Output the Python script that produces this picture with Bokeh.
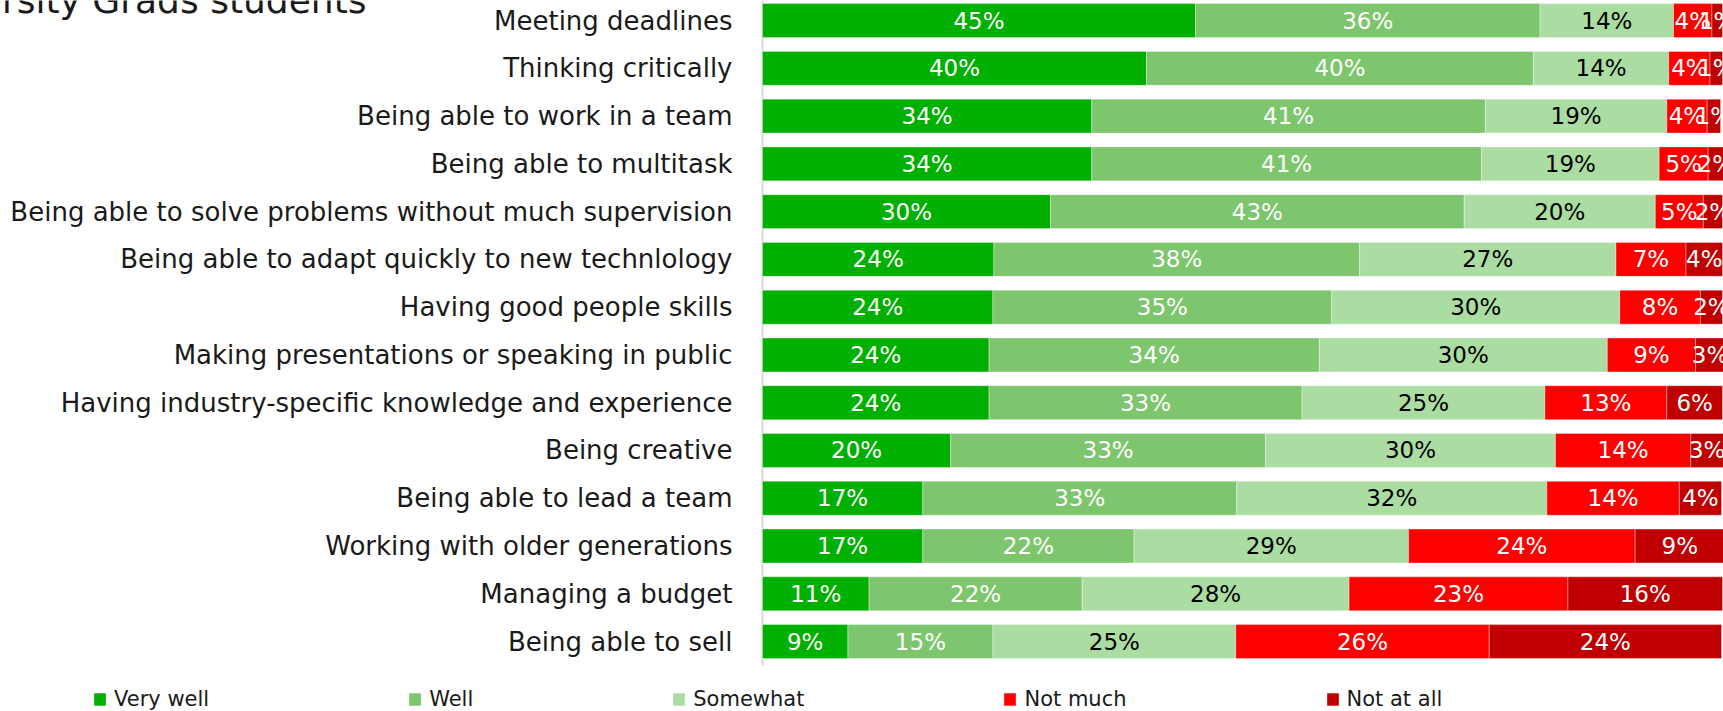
import numpy as np
from bokeh.plotting import figure
from bokeh.models import ColumnDataSource, Legend, LegendItem, Range1d, Label
from bokeh.core.properties import value
from bokeh.embed import file_html
from bokeh.resources import INLINE

skills = [
    "Meeting deadlines",
    "Thinking critically",
    "Being able to work in a team",
    "Being able to multitask",
    "Being able to solve problems without much supervision",
    "Being able to adapt quickly to new technlology",
    "Having good people skills",
    "Making presentations or speaking in public",
    "Having industry-specific knowledge and experience",
    "Being creative",
    "Being able to lead a team",
    "Working with older generations",
    "Managing a budget",
    "Being able to sell",
]
levels = ["Very well", "Well", "Somewhat", "Not much", "Not at all"]
very_well = [45.1, 40.0, 34.3, 34.3, 30.0, 24.1, 24.0, 23.6, 23.6, 19.6, 16.7, 16.7, 11.1, 8.9]
well = [35.9, 40.3, 41.0, 40.6, 43.1, 38.1, 35.3, 34.4, 32.6, 32.8, 32.7, 22.0, 22.2, 15.1]
somewhat = [13.9, 14.1, 18.9, 18.5, 19.9, 26.7, 30.0, 30.0, 25.3, 30.2, 32.3, 28.6, 27.8, 25.3]
not_much = [4.0, 4.3, 4.2, 5.1, 5.0, 7.3, 8.4, 9.2, 12.7, 14.1, 13.8, 23.6, 22.8, 26.4]
not_at_all = [1.1, 1.3, 1.4, 1.6, 2.0, 3.8, 2.3, 3.0, 5.8, 3.4, 4.4, 9.3, 16.1, 24.2]
title_text = "University Grads students"

series = [very_well, well, somewhat, not_much, not_at_all]
colors = ["#00B000", "#7DC66D", "#ABDDA3", "#FF0000", "#C00000"]
label_colors = ["#FFFFFF", "#FFFFFF", "#000000", "#FFFFFF", "#FFFFFF"]
FONT = "DejaVu Sans"
TEXT = "#1A1A1A"

W, H = 1723, 711
PX_PER_PCT = 9.6          # horizontal scale of the bars
AXIS_X = 762              # pixel position of the 0 % line
ROW_PX = 47.77            # row pitch in pixels
Y_TOP = 13.42             # top of the visible window in row units

n = len(skills)
ypos = np.arange(n)[::-1].astype(float)

x0 = -AXIS_X / PX_PER_PCT
x1 = (W - AXIS_X) / PX_PER_PCT
y0 = Y_TOP - H / ROW_PX

p = figure(width=W, height=H, output_backend="svg", toolbar_location=None,
           x_range=Range1d(x0, x1), y_range=Range1d(y0, Y_TOP),
           min_border=0)
p.outline_line_color = None
p.grid.visible = False
p.axis.visible = False
p.background_fill_color = "white"
p.border_fill_color = "white"

# category axis: line and labels
p.segment(x0=[0], x1=[0], y0=[ypos.min() - 0.5], y1=[Y_TOP],
          line_color="#D9D9D9", line_width=2)
cat_src = ColumnDataSource(dict(x=np.zeros(n), y=ypos, t=skills))
p.text(x="x", y="y", text="t", source=cat_src, x_offset=-30, text_align="right",
       text_baseline="middle", text_color=TEXT, text_font=value(FONT),
       text_font_size="26px")

left = np.zeros(n)
items = []
for name, vals, col, lcol in zip(levels, series, colors, label_colors):
    vals = np.array(vals)
    right = left + vals
    src = ColumnDataSource(dict(y=ypos, left=left, right=right,
                                mid=(left + right) / 2,
                                lab=["%d%%" % int(v + 0.5) for v in vals]))
    r = p.hbar(y="y", left="left", right="right", height=0.71, source=src,
               fill_color=col, line_color="white", line_width=1, line_alpha=0.35)
    p.text(x="mid", y="y", text="lab", source=src, text_align="center",
           text_baseline="middle", text_color=lcol, text_font=value(FONT),
           text_font_size="23px")
    items.append(LegendItem(label=name, renderers=[r]))
    left = right

legend = Legend(items=items, orientation="horizontal", location=(92, 0),
                spacing=198, glyph_width=15, glyph_height=16, label_height=16,
                label_standoff=7, padding=0, margin=0, border_line_color=None,
                background_fill_alpha=0, label_text_font=FONT,
                label_text_font_size="21px", label_text_color=TEXT,
                label_text_baseline="middle")
p.add_layout(legend, "center")

p.add_layout(Label(x=(366 - AXIS_X) / PX_PER_PCT, y=Y_TOP + 0.5 / ROW_PX,
                   text=title_text, text_align="right", text_baseline="alphabetic",
                   text_font=FONT, text_font_size="36px", text_color=TEXT))

open("out.html", "w").write(file_html(p, INLINE))
